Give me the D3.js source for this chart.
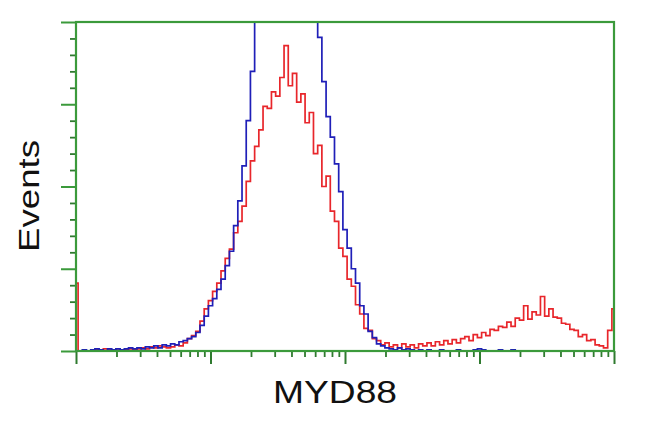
<!DOCTYPE html>
<html><head><meta charset="utf-8">
<script src="https://cdn.jsdelivr.net/npm/d3@7"></script>
<style>body{margin:0;background:#fff}svg{display:block}</style>
</head><body>
<svg id="c" width="650" height="432"></svg>
<script>
// Histogram counts per channel (129 channels spread over 4 log decades)
const redCounts = [66,
  0,0,0,0,1,0,2,1,0,2,1,1,2,1,2,3,2,4,3,5,4,3,4,6,5,
  8,12,15,19,29,41,49,58,66,78,90,99,115,126,141,165,185,199,215,238,236,252,248,266,297,
  258,270,242,250,222,232,192,200,160,170,136,126,100,92,70,63,45,36,22,20,12,10,6,8,4,
  6,3,7,4,6,3,7,5,8,5,9,6,10,7,11,8,12,14,10,16,13,18,15,21,20,
  24,23,28,24,32,30,44,31,38,35,53,34,41,33,32,27,26,21,20,14,16,10,11,6,5,3,20,41];
const blueCounts = [0,
  0,1,0,1,2,1,0,2,1,2,1,2,3,2,3,2,4,3,5,3,6,5,7,6,9,
  10,12,14,18,25,34,44,51,60,70,83,97,122,146,180,224,272,331,380,420,450,470,490,500,505,
  500,490,470,445,410,370,335,305,262,228,208,182,155,118,100,80,66,44,36,19,13,7,5,3,2,
  1,3,1,2,1,0,1,0,1,0,0,1,0,0,0,1,0,0,0,1,2,1,0,0,0,
  1,0,0,1,0,0,0,0,0,0,0,0,0,0,0,0,0,0,0,0,0,0,0,0,0,0,0,0];
const xMajorTicks = [1, 10, 100, 1000, 10000];
const xMinorMultipliers = [2,3,4,5,6,7,8,9];
const yMajorTicks = [0, 80, 160, 240, 320];
const yMinorStep = 16;
const xLabel = "MYD88";
const yLabel = "Events";

const svg = d3.select("#c");
const L = 76, R = 614, T = 22, B = 351;
const green = "#3b9a3b", tickGreen = "#2f7a2f";

const nCh = redCounts.length - 1;
const xLog = d3.scaleLog().domain([1, 10000]).range([L, R]);
const xCh = d3.scaleLinear().domain([0, nCh]).range([L, R]);
const y = d3.scaleLinear().domain([0, 320]).range([B, T]);

const xMinor = [];
xMajorTicks.slice(0, -1).forEach(d => xMinorMultipliers.forEach(m => xMinor.push(d * m)));
const yMinor = d3.range(0, 320 + 1, yMinorStep).filter(v => !yMajorTicks.includes(v));

svg.append("clipPath").attr("id", "clip").append("rect")
  .attr("x", L).attr("y", T).attr("width", R - L).attr("height", B - T);

const line = d3.line().x((d, i) => xCh(i)).y(d => y(d)).curve(d3.curveStep);
const plot = svg.append("g").attr("clip-path", "url(#clip)");
plot.append("path").datum(redCounts).attr("d", line)
  .attr("fill", "none").attr("stroke", "#e8262b").attr("stroke-width", 1.7);
plot.append("path").datum(blueCounts).attr("d", line)
  .attr("fill", "none").attr("stroke", "#1f1fb8").attr("stroke-width", 1.7);

function styleAxis(g, w) {
  g.select(".domain").remove();
  g.selectAll("line").attr("stroke", tickGreen).attr("stroke-width", w);
  g.selectAll("text").remove();
}
svg.append("g").attr("transform", `translate(0,${B})`)
  .call(d3.axisBottom(xLog).tickValues(xMinor).tickSize(6).tickFormat(""))
  .call(g => styleAxis(g, 1.8));
svg.append("g").attr("transform", `translate(0,${B})`)
  .call(d3.axisBottom(xLog).tickValues(xMajorTicks).tickSize(13).tickFormat(""))
  .call(g => styleAxis(g, 2));
svg.append("g").attr("transform", `translate(${L},0)`)
  .call(d3.axisLeft(y).tickValues(yMinor).tickSize(6).tickFormat(""))
  .call(g => styleAxis(g, 1.8));
svg.append("g").attr("transform", `translate(${L},0)`)
  .call(d3.axisLeft(y).tickValues(yMajorTicks).tickSize(15).tickFormat(""))
  .call(g => { styleAxis(g, 2); g.selectAll("line").attr("stroke", green); });

svg.append("rect").attr("x", L).attr("y", T).attr("width", R - L).attr("height", B - T)
  .attr("fill", "none").attr("stroke", green).attr("stroke-width", 2.2);

svg.append("text").attr("x", 335).attr("y", 403).attr("text-anchor", "middle")
  .attr("font-family", "Liberation Sans, Arial, sans-serif").attr("font-size", 32)
  .attr("textLength", 124).attr("lengthAdjust", "spacingAndGlyphs")
  .attr("fill", "#111").text(xLabel);
svg.append("text").attr("transform", "translate(39,196) rotate(-90)").attr("text-anchor", "middle")
  .attr("font-family", "Liberation Sans, Arial, sans-serif").attr("font-size", 30)
  .attr("textLength", 112).attr("lengthAdjust", "spacingAndGlyphs")
  .attr("fill", "#111").text(yLabel);
</script>
</body></html>
